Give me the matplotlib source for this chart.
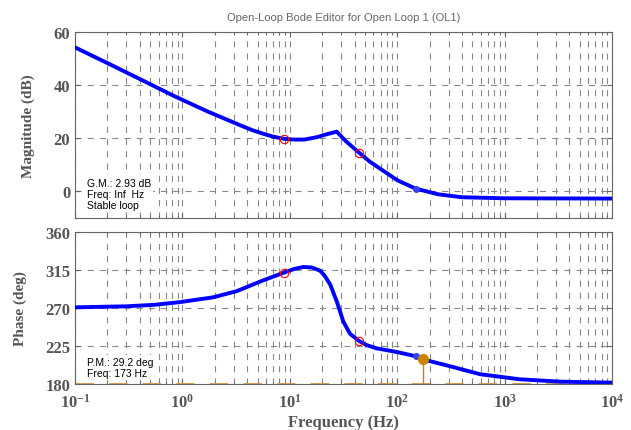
import matplotlib.pyplot as plt
import numpy as np
from matplotlib.ticker import LogLocator, NullFormatter, FixedLocator, FixedFormatter

plt.rcParams['mathtext.fontset'] = 'custom'
plt.rcParams['mathtext.rm'] = 'Liberation Serif:bold'
plt.rcParams['mathtext.bf'] = 'Liberation Serif:bold'
plt.rcParams['mathtext.default'] = 'bf'

# magnitude curve (Hz, dB)
mag_freq = [0.1, 0.2, 0.41, 0.835, 1.71, 3.49, 4.5, 5.75, 7.0, 8.8, 11, 13.6, 17.8, 22, 27.3,
            33, 44, 55, 69, 100, 147, 240, 400, 1000, 10000]
mag_db = [54.2, 48.3, 42.1, 35.9, 30.1, 24.8, 23.0, 21.6, 20.6, 19.8, 19.5, 19.5, 20.4, 21.5, 22.5,
          19.0, 14.6, 11.3, 8.6, 4.2, 1.1, -1.1, -2.2, -2.6, -2.7]

# phase curve (Hz, deg)
ph_freq = [0.1, 0.3, 0.55, 0.95, 1.94, 3.2, 5.66, 8.9, 11, 13.4, 16, 19.1, 21, 23.7, 27.3, 31.5,
           36.3, 44, 52, 64.4, 99, 151, 173, 300, 590, 1380, 3300, 10000]
ph_deg = [270.8, 272, 273.8, 277.0, 282.7, 290.0, 302.8, 312.1, 316.3, 318.6, 318.0, 314.2, 308.5,
          298.0, 277.9, 253.7, 239.5, 231.0, 226.0, 222.2, 217.9, 212.7, 209.2, 201.5, 191.6,
          185.6, 182.8, 181.6]

# markers
red_freq = [8.8, 44]
red_mag = [19.8, 14.6]
red_ph = [312.0, 231.0]
blue_freq = 150
blue_mag = 1.0
blue_ph = 212.7
pm_freq = 173
pm_deg = 209.2

xticks = [0.1, 1, 10, 100, 1000, 10000]
xticklabels = ['10$^{-1}$', '10$^{0}$', '10$^{1}$', '10$^{2}$', '10$^{3}$', '10$^{4}$']

gray = '#555555'
blue = '#0000ff'

fig = plt.figure(figsize=(6.31, 4.31), dpi=100)
ax1 = fig.add_axes([0.119, 0.492, 0.851, 0.4314])
ax2 = fig.add_axes([0.119, 0.1067, 0.851, 0.3527])

for ax in (ax1, ax2):
    ax.set_xscale('log')
    ax.set_xlim(0.1, 10000)
    ax.xaxis.set_major_locator(FixedLocator(xticks))
    ax.xaxis.set_minor_locator(LogLocator(base=10, subs=np.arange(2, 10), numticks=20))
    ax.xaxis.set_minor_formatter(NullFormatter())
    ax.grid(True, which='both', axis='x', color='#888888', linestyle=(0, (5.5, 5.5)), linewidth=0.8)
    ax.grid(True, which='major', axis='y', color='#888888', linestyle=(0, (5.5, 5.5)), linewidth=0.8)
    ax.tick_params(which='both', direction='in', top=True, right=True, colors='#666666',
                   labelcolor=gray, labelsize=11)
    ax.tick_params(axis='x', which='major', pad=6)
    for s in ax.spines.values():
        s.set_color('#666666')

ax1.set_ylim(-10, 60)
ax1.set_yticks([0, 20, 40, 60])
ax1.xaxis.set_major_formatter(NullFormatter())
ax2.set_ylim(180, 360)
ax2.set_yticks([180, 225, 270, 315, 360])
ax2.xaxis.set_major_formatter(FixedFormatter(xticklabels))

for ax in (ax1, ax2):
    for lab in ax.get_yticklabels() + ax.get_xticklabels():
        lab.set_fontfamily('Liberation Serif')
        lab.set_fontweight('bold')
        lab.set_fontsize(12)

box = dict(facecolor='white', edgecolor='none', pad=1.5)

# magnitude plot
ax1.plot(mag_freq, mag_db, color=blue, linewidth=2.8, solid_capstyle='round',
         solid_joinstyle='round', zorder=3)
ax1.plot(red_freq, red_mag, 'o', mfc='none', mec='red', ms=6, mew=0.8, zorder=4)
ax1.plot([blue_freq], [blue_mag], 'o', color='#3344ee', ms=4, zorder=4)
ax1.text(0.022, 0.129, 'G.M.: 2.93 dB\nFreq: Inf  Hz\nStable loop', transform=ax1.transAxes,
         fontsize=7.5, family='Liberation Sans', va='center', linespacing=1.15, bbox=box, zorder=5)
ax1.set_title('Open-Loop Bode Editor for Open Loop 1 (OL1)', fontsize=8,
              family='Liberation Sans', color='#666666', pad=9)
ax1.set_ylabel('Magnitude (dB)', family='Liberation Serif', fontweight='bold',
               fontsize=11, color=gray)
ax1.yaxis.set_label_coords(-0.074, 0.5)

# phase plot
ax2.axhline(180, color='#d9a050', linewidth=2.2, linestyle=(0, (6, 5)), zorder=2)
ax2.plot(ph_freq, ph_deg, color=blue, linewidth=2.8, solid_capstyle='round',
         solid_joinstyle='round', zorder=3)
ax2.plot(red_freq, red_ph, 'o', mfc='none', mec='red', ms=6, mew=0.8, zorder=4)
ax2.plot([blue_freq], [blue_ph], 'o', color='#3344ee', ms=4, zorder=4)
ax2.plot([pm_freq, pm_freq], [180, pm_deg], color='#cc8400', linewidth=1, zorder=4)
ax2.plot([pm_freq], [pm_deg], 'o', color='#cc8400', ms=7, zorder=5)
ax2.text(0.022, 0.108, 'P.M.: 29.2 deg\nFreq: 173 Hz', transform=ax2.transAxes,
         fontsize=7.5, family='Liberation Sans', va='center', linespacing=1.15, bbox=box, zorder=5)
ax2.set_ylabel('Phase (deg)', family='Liberation Serif', fontweight='bold',
               fontsize=11, color=gray)
ax2.yaxis.set_label_coords(-0.089, 0.5)
ax2.set_xlabel('Frequency (Hz)', family='Liberation Serif', fontweight='bold',
               fontsize=12, color=gray, labelpad=3)

fig.savefig('out.png', dpi=100)
